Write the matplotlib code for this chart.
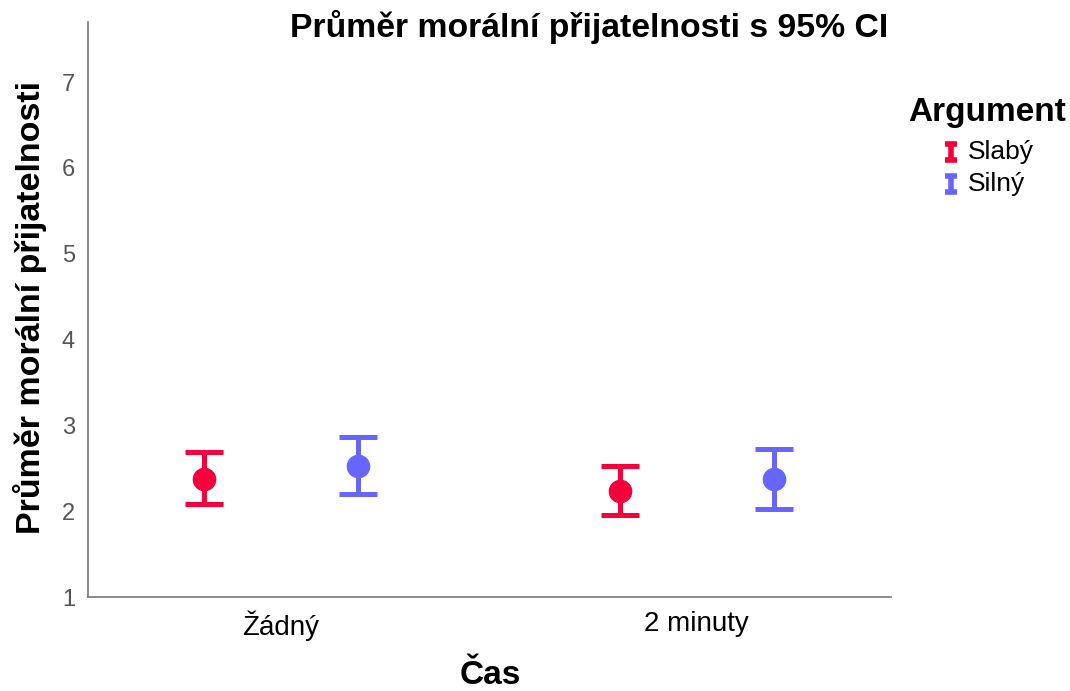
import matplotlib
matplotlib.use("Agg")
import matplotlib.pyplot as plt
import numpy as np
from matplotlib.lines import Line2D

plt.rcParams['font.family'] = ['Liberation Sans', 'DejaVu Sans']

categories = ["Žádný", "2 minuty"]
groups = ["Slabý", "Silný"]
means = {"Slabý": [2.38, 2.24], "Silný": [2.53, 2.38]}
ci_low = {"Slabý": [2.08, 1.95], "Silný": [2.20, 2.03]}
ci_high = {"Slabý": [2.69, 2.53], "Silný": [2.87, 2.73]}
colors = {"Slabý": "#F5003A", "Silný": "#6666FF"}
offsets = {"Slabý": -0.185, "Silný": 0.185}
yticks = [1, 2, 3, 4, 5, 6, 7]

W, H = 1070, 691
fig = plt.figure(figsize=(W/100, H/100), dpi=100)
ax = fig.add_axes([87.5/W, 1 - 597/H, (890.7-87.5)/W, (597-22)/H])

x = np.arange(len(categories))
for g in groups:
    m = np.array(means[g]); lo = np.array(ci_low[g]); hi = np.array(ci_high[g])
    ax.errorbar(x + offsets[g], m, yerr=[m - lo, hi - m], fmt='o', color=colors[g],
                ms=16, elinewidth=3.6, capsize=13.5, capthick=3.6, label=g)

ax.set_xlim(-0.465, 1.466)
ax.set_ylim(1, 7.7)
ax.set_xticks(x)
ax.set_xticklabels(categories, fontsize=20)
ax.set_yticks(yticks)
ax.set_yticklabels([str(v) for v in yticks], fontsize=17, color='#555555')
ax.tick_params(axis='both', length=0)
ax.tick_params(axis='x', pad=10)
ax.tick_params(axis='y', pad=9)
for s in ['top', 'right']:
    ax.spines[s].set_visible(False)
for s in ['left', 'bottom']:
    ax.spines[s].set_color('#777777')
    ax.spines[s].set_linewidth(1.2)

fig.text(30/W, 1 - 307/H, "Průměr morální přijatelnosti", fontsize=24.5, fontweight='bold',
         rotation=90, ha='center', va='center')
fig.text(490/W, 1 - 675/H, "Čas", fontsize=24, fontweight='bold', ha='center', va='center')
fig.text(888/W, 1 - 27/H, "Průměr morální přijatelnosti s 95% CI", fontsize=24.3,
         fontweight='bold', ha='right', va='center')

# legend
fig.text(908/W, 1 - 112/H, "Argument", fontsize=24, fontweight='bold', va='center', ha='left')
for i, g in enumerate(groups):
    yc = 1 - (152 + 32*i)/H
    xc = 951/W
    h = 8/H
    w = 6/W
    kw = dict(color=colors[g], lw=4, transform=fig.transFigure, solid_capstyle='butt')
    fig.add_artist(Line2D([xc, xc], [yc - h, yc + h], **kw))
    fig.add_artist(Line2D([xc - w, xc + w], [yc + h, yc + h], **kw))
    fig.add_artist(Line2D([xc - w, xc + w], [yc - h, yc - h], **kw))
    fig.text(968/W, yc, g, fontsize=19, va='center', ha='left')

fig.savefig("out.png", dpi=100)
